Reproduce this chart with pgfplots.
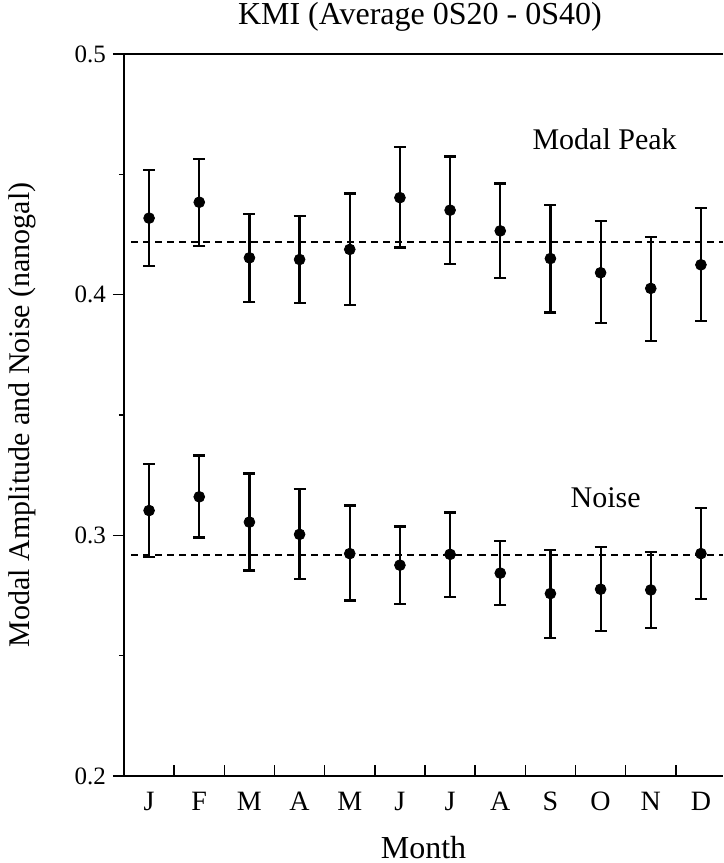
\documentclass[border=0pt]{standalone}
\usepackage{fontspec}
\setmainfont{Liberation Serif}
\usepackage{pgfplots}
\usepackage{pgfplotstable}
\pgfplotsset{compat=1.18}

\pgfplotstableread{
x y hi lo
1 0.4318 0.4518 0.4120
2 0.4384 0.4564 0.4203
3 0.4153 0.4335 0.3971
4 0.4146 0.4328 0.3964
5 0.4188 0.4420 0.3957
6 0.4403 0.4615 0.4196
7 0.4351 0.4574 0.4128
8 0.4265 0.4462 0.4069
9 0.4150 0.4373 0.3926
10 0.4091 0.4305 0.3882
11 0.4026 0.4240 0.3809
12 0.4124 0.4361 0.3892
}\peak

\pgfplotstableread{
x y hi lo
1 0.3103 0.3297 0.2910
2 0.3160 0.3332 0.2991
3 0.3055 0.3257 0.2854
4 0.3004 0.3192 0.2820
5 0.2924 0.3124 0.2729
6 0.2876 0.3037 0.2715
7 0.2921 0.3095 0.2745
8 0.2843 0.2976 0.2712
9 0.2758 0.2939 0.2575
10 0.2776 0.2951 0.2601
11 0.2773 0.2930 0.2614
12 0.2924 0.3112 0.2734
}\noise

\begin{document}
\begin{tikzpicture}
\begin{axis}[
  scale only axis,
  width=299.5pt, height=361pt,
  xmin=0.5, xmax=12.44,
  ymin=0.2, ymax=0.5,
  axis x line*=box,
  axis y line*=left,
  axis line style={line width=0.8pt},
  xtick pos=bottom, ytick pos=left,
  xtick={1.5,2.5,...,11.5},
  xticklabels={},
  xtick align=inside,
  extra x ticks={1,2,...,12},
  extra x tick labels={J,F,M,A,M,J,J,A,S,O,N,D},
  extra x tick style={major tick length=0pt,
     xticklabel style={font=\fontsize{14}{16}\selectfont, yshift=-4.5pt}},
  ytick={0.2,0.3,0.4,0.5},
  minor ytick={0.25,0.35,0.45},
  ytick align=outside,
  major tick length=5.5pt,
  minor tick length=2.5pt,
  every tick/.style={black, line width=0.8pt},
  yticklabel style={font=\fontsize{12.5}{15}\selectfont,
     /pgf/number format/fixed, /pgf/number format/precision=1,
     /pgf/number format/fixed zerofill},
  /pgf/number format/assume math mode=true,
  xlabel={Month},
  ylabel={Modal Amplitude and Noise (nanogal)},
  xlabel style={font=\fontsize{16}{19}\selectfont, at={(axis description cs:0.5,-0.099)}, anchor=center},
  ylabel style={font=\fontsize{15}{18}\selectfont, at={(axis description cs:-0.170,0.5)}, anchor=center},
  clip=false,
]
\addplot[black, line width=1pt, dash pattern=on 3.5pt off 2.5pt] coordinates {(0.64,0.422) (12.44,0.422)};
\addplot[black, line width=1pt, dash pattern=on 3.5pt off 2.5pt] coordinates {(0.64,0.292) (12.44,0.292)};

\addplot[black, only marks, mark=*, mark size=2.7pt,
  error bars/.cd, y dir=both, y explicit,
  error bar style={line width=1.1pt, black},
  error mark options={black, mark size=3pt, line width=1.1pt, rotate=90}]
  table[x=x, y=y, y error plus expr=\thisrow{hi}-\thisrow{y}, y error minus expr=\thisrow{y}-\thisrow{lo}] {\peak};

\addplot[black, only marks, mark=*, mark size=2.7pt,
  error bars/.cd, y dir=both, y explicit,
  error bar style={line width=1.1pt, black},
  error mark options={black, mark size=3pt, line width=1.1pt, rotate=90}]
  table[x=x, y=y, y error plus expr=\thisrow{hi}-\thisrow{y}, y error minus expr=\thisrow{y}-\thisrow{lo}] {\noise};

\node[font=\fontsize{15}{18}\selectfont] at (axis cs:10.08,0.4647) {Modal Peak};
\node[font=\fontsize{15}{18}\selectfont] at (axis cs:10.1,0.3156) {Noise};
\node[font=\fontsize{16}{19}\selectfont] at (axis description cs:0.494,1.051) {KMI (Average 0S20 - 0S40)};
\end{axis}
\pgfresetboundingbox
\path[use as bounding box] ([xshift=-62pt,yshift=-43.5pt]current axis.south west) rectangle ([yshift=27pt]current axis.north east);
\end{tikzpicture}
\end{document}
